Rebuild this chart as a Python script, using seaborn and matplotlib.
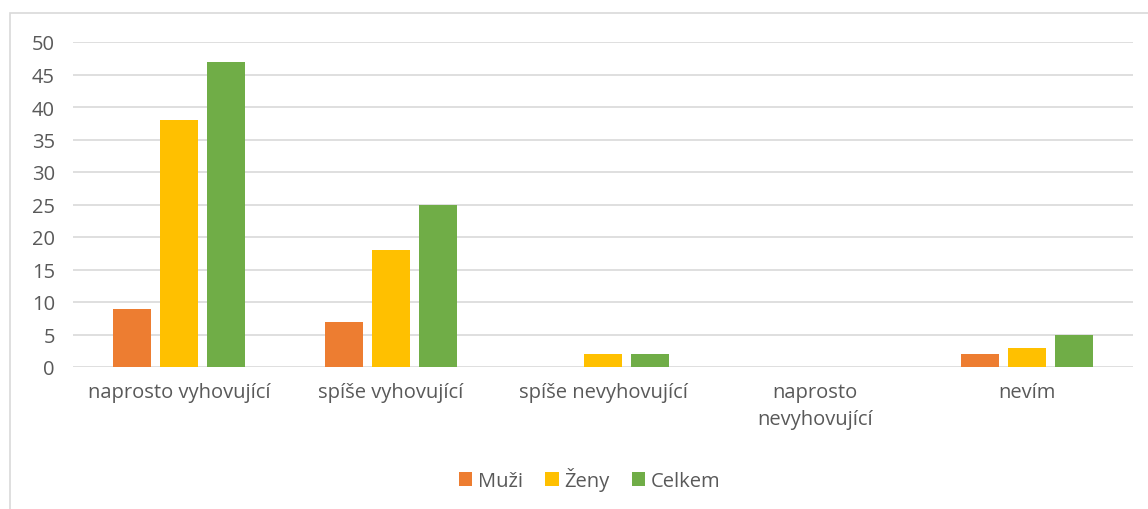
import matplotlib
matplotlib.use('Agg')
import matplotlib.pyplot as plt
import seaborn as sns
import pandas as pd
from matplotlib.patches import Rectangle

categories=['naprosto vyhovující','spíše vyhovující','spíše nevyhovující','naprosto\nnevyhovující','nevím']
series=['Muži','Ženy','Celkem']
muzi=[9,7,0,0,2]
zeny=[38,18,2,0,3]
celkem=[47,25,2,0,5]
colors=['#ED7D31','#FFC000','#70AD47']
yticks=[0,5,10,15,20,25,30,35,40,45,50]

df=pd.DataFrame({'kategorie':categories*3,
	'skupina':[s for s in series for _ in categories],
	'pocet':muzi+zeny+celkem})

sns.set_theme(style='white')
plt.rcParams['font.family']=['Open Sans','DejaVu Sans']
txt='#595959'

fig=plt.figure(figsize=(11.48,5.1),dpi=100)
ax=fig.add_axes([73/1148,1-368/510,(1133-73)/1148,(368-43)/510])
sns.barplot(data=df,x='kategorie',y='pocet',hue='skupina',palette=colors,
	width=0.665,gap=0.21,ax=ax,order=categories,hue_order=series,saturation=1,linewidth=0)

ax.set_ylim(0,50)
ax.set_yticks(yticks)
ax.set_xlim(-0.5,4.5)
ax.yaxis.grid(True,color='#D9D9D9',linewidth=1.2)
ax.set_axisbelow(True)
for s in ax.spines.values():
	s.set_visible(False)
ax.tick_params(axis='both',length=0,labelsize=14.5,colors=txt,pad=13)
ax.tick_params(axis='x',pad=11)
for lbl in ax.get_xticklabels():
	lbl.set_linespacing(1.45)
ax.set_xlabel('');ax.set_ylabel('')

ax.legend(loc='center',bbox_to_anchor=(590/1148,1-480/510),bbox_transform=fig.transFigure,
	ncol=3,frameon=False,fontsize=14.5,labelcolor=txt,handlelength=0.65,handleheight=0.65,
	handletextpad=0.3,columnspacing=1.1)

fig.patches.append(Rectangle((10/1148,-0.1),1.2,1-14/510+0.1,transform=fig.transFigure,
	fill=False,edgecolor='#D9D9D9',linewidth=1.2))

plt.savefig('out.png',dpi=100)
plt.close()
